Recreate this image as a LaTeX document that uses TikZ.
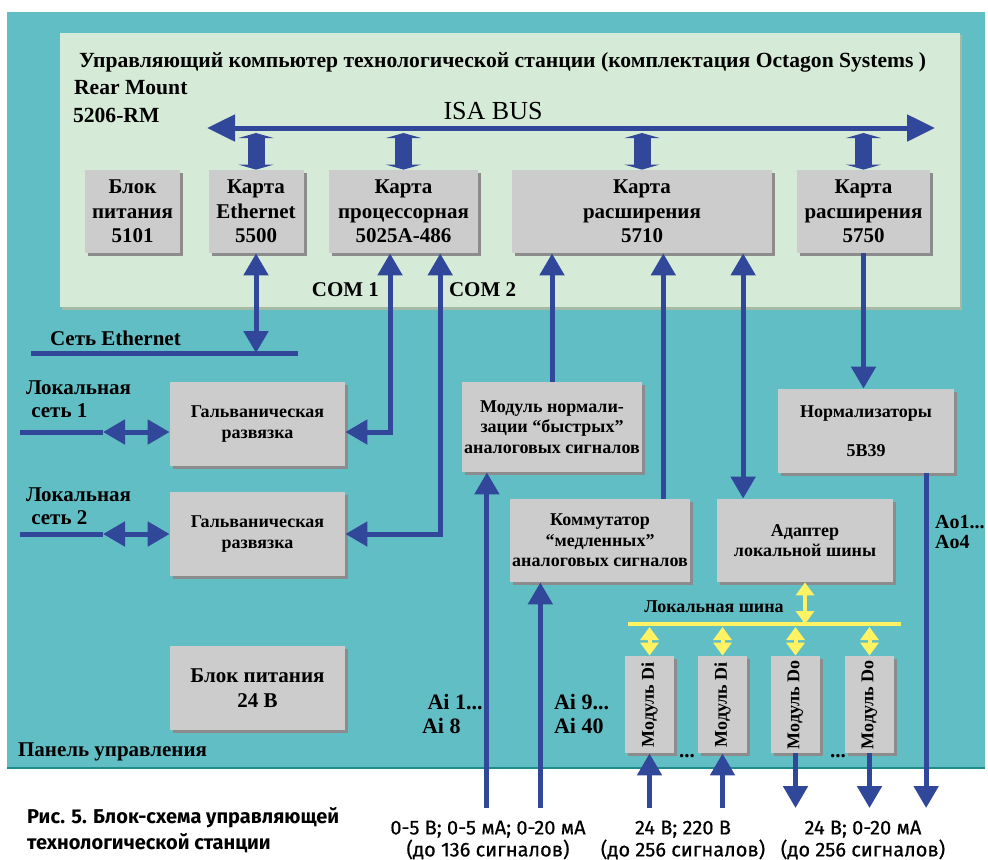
\documentclass[tikz,border=0pt]{standalone}
\usepackage{fontspec}
\setmainfont{Liberation Serif}
\newfontfamily\capfont{Fira Sans}
\newfontfamily\sigfam[FakeBold=0.5]{Fira Sans}
\usetikzlibrary{arrows.meta,calc,shadows}

\definecolor{tealbg}{HTML}{62BEC5}
\definecolor{tealdark}{HTML}{1E8C8A}
\definecolor{panelgreen}{HTML}{D6EBD7}
\definecolor{panelshadow}{HTML}{A3BBA4}
\definecolor{boxgray}{HTML}{CCCCCC}
\definecolor{shadowgray}{HTML}{8C8C8C}
\definecolor{bluec}{HTML}{30479A}
\definecolor{ylwc}{HTML}{FFF263}

\newcommand\titlefont{\fontsize{10.8}{12}\selectfont\bfseries}
\newcommand\cardfont{\fontsize{10.5}{12.25}\selectfont\bfseries}
\newcommand\boxsmall{\fontsize{9}{10.2}\selectfont\bfseries}
\newcommand\busfont{\fontsize{13}{15}\selectfont\mdseries}
\newcommand\lblfont{\fontsize{10.5}{11.5}\selectfont\bfseries}
\newcommand\sigfont{\sigfam\fontsize{10}{11}\selectfont}
\newcommand\capbold{\capfont\fontsize{10}{13}\selectfont\bfseries}

\tikzset{
  card/.style={fill=boxgray, inner sep=1pt, align=center, font=\cardfont,
    general shadow={fill=shadowgray, shadow xshift=1.5pt, shadow yshift=-1.5pt}},
  smallcard/.style={card, font=\boxsmall},
  modbox/.style={card, font=\boxsmall, minimum width=24.5pt, minimum height=48.5pt},
  ln/.style={draw=bluec, line width=2.5pt},
  bus/.style={ln, {Triangle[width=13pt,length=14pt]}-{Triangle[width=13pt,length=14pt]}},
  slot/.style={draw=bluec, line width=8.5pt,
    {Triangle[width=17.5pt,length=2.5pt]}-{Triangle[width=17.5pt,length=2.5pt]}},
  lbus/.style={draw=ylwc, line width=2pt},
  ylw/.style={draw=ylwc, line width=2pt,
    {Triangle[width=9pt,length=6.5pt]}-{Triangle[width=9pt,length=6.5pt]}},
  lbl/.style={font=\lblfont, align=left}
}

\begin{document}
\begin{tikzpicture}[x=0.5pt, y=-0.5pt, font=\bfseries,
  >={Triangle[width=12pt,length=11pt]}]
\useasboundingbox (0,0) rectangle (988,859);

% background panels
\fill[tealbg] (7,12) rectangle (985,768);
\draw[tealdark, line width=1pt] (7,767.5) -- (985,767.5);
\fill[panelshadow] (62,35) rectangle (962,310);
\fill[panelgreen] (60,33) rectangle (960,307);

% computer
\node[anchor=west, font=\titlefont] (title) at (72,62)
  {Управляющий компьютер технологической станции (комплектация Octagon Systems )};
\node[anchor=west, font=\titlefont] (rear) at (67,88) {Rear Mount};
\node[anchor=west, font=\titlefont] (rm) at (66,115) {5206-RM};
\node[font=\busfont] (isa) at (493,111) {ISA BUS};
\coordinate (busL) at (207,128);
\coordinate (busR) at (935,128);
\draw[bus] (busL) -- (busR);

\node[card, minimum width=47.5pt, minimum height=41.5pt] (psu) at (132.5,211.5) {Блок\\питания\\5101};
\node[card, minimum width=47.5pt, minimum height=41.5pt] (eth) at (256,211.5) {Карта\\Ethernet\\5500};
\node[card, minimum width=74.5pt, minimum height=41.5pt] (proc) at (403.5,211.5) {Карта\\процессорная\\5025A-486};
\node[card, minimum width=130pt, minimum height=41.5pt] (c5710) at (642,211.5) {Карта\\расширения\\5710};
\node[card, minimum width=66.5pt, minimum height=41.5pt] (c5750) at (863.5,211.5) {Карта\\расширения\\5750};

\coordinate (slotY) at (0,133);
\foreach \c in {eth,proc,c5710,c5750}
  \draw[slot] (\c.north |- slotY) -- (\c.north);

% panel boxes
\node[smallcard, minimum width=87.5pt, minimum height=42pt] (gal1) at (257.5,424) {Гальваническая\\развязка};
\node[smallcard, minimum width=87.5pt, minimum height=42pt] (gal2) at (257.5,534) {Гальваническая\\развязка};
\node[card, minimum width=87.5pt, minimum height=42pt] (psu24) at (257.5,688) {Блок питания\\24 В};
\node[smallcard, minimum width=90pt, minimum height=45pt] (norm) at (552,427)
  {Модуль нормали-\\зации “быстрых”\\аналоговых сигналов};
\node[smallcard, minimum width=90pt, minimum height=41.5pt] (komm) at (600,540.5)
  {Коммутатор\\“медленных”\\аналоговых сигналов};
\node[smallcard, minimum width=88pt, minimum height=41.5pt] (adapt) at (805,540.5)
  {Адаптер\\локальной шины};
\node[smallcard, minimum width=88pt, minimum height=42pt] (normz) at (866,431)
  {Нормализаторы\\[9pt]5B39};

\node[modbox] (di1) at (649.5,704.5) {\rotatebox{90}{Модуль Di}};
\node[modbox] (di2) at (722.5,704.5) {\rotatebox{90}{Модуль Di}};
\node[modbox] (do1) at (795.5,704.5) {\rotatebox{90}{Модуль Do}};
\node[modbox] (do2) at (869.5,704.5) {\rotatebox{90}{Модуль Do}};
\node[font=\lblfont] (dots1) at (687,756) {...};
\node[font=\lblfont] (dots2) at (838,756) {...};

% Ethernet
\node[anchor=west, font=\lblfont] (enet) at (43,338) {Сеть Ethernet};
\coordinate (enetL) at (31,353);
\coordinate (enetR) at (298,353);
\draw[ln] (enetL) -- (enetR);
\draw[ln,<->] (eth.south) -- (eth.south |- enetL);

% COM ports
\coordinate (com1) at ($(proc.south west)!0.41!(proc.south east)$);
\coordinate (com2) at ($(proc.south west)!0.745!(proc.south east)$);
\draw[ln,<->] (com1) |- ([yshift=-4pt]gal1.east);
\draw[ln,<->] (com2) |- (gal2.east);
\node[anchor=east, font=\lblfont] (com1l) at (386,290) {COM 1};
\node[anchor=west, font=\lblfont] (com2l) at (442,290) {COM 2};

% local networks
\node[lbl, anchor=west] (lan1l) at (19,399) {Локальная\\\ сеть 1};
\node[lbl, anchor=west] (lan2l) at (19,506) {Локальная\\\ сеть 2};
\coordinate (lan1) at (20,432);
\coordinate (lan1m) at (103,432);
\coordinate (lan2) at (20,534);
\coordinate (lan2m) at (103,534);
\draw[ln] (lan1) -- (lan1m);
\draw[ln,<->] (lan1m) -- ([yshift=-4pt]gal1.west);
\draw[ln] (lan2) -- (lan2m);
\draw[ln,<->] (lan2m) -- (gal2.west);

% expansion cards
\draw[ln,->] (norm.north) -- (norm.north |- c5710.south);
\coordinate (kommTop) at ($(komm.north west)!0.85!(komm.north east)$);
\draw[ln,->] (kommTop) -- (kommTop |- c5710.south);
\coordinate (adTop) at ($(adapt.north west)!0.15!(adapt.north east)$);
\draw[ln,<->] (adTop |- c5710.south) -- (adTop);
\draw[ln,->] (c5750.south) -- (c5750.south |- normz.north);

% outputs and inputs
\coordinate (sigY) at (0,808);
\coordinate (aoTop) at ($(normz.south west)!0.84!(normz.south east)$);
\draw[ln,->] (aoTop) -- (aoTop |- sigY);
\node[lbl, anchor=west, font=\fontsize{10}{10}\selectfont\bfseries] (aol) at (928,532) {Ao1...\\Ao4};
\coordinate (ai1) at ($(norm.south west)!0.14!(norm.south east)$);
\coordinate (ai9) at ($(komm.south west)!0.17!(komm.south east)$);
\draw[ln,->] (ai1 |- sigY) -- (ai1);
\draw[ln,->] (ai9 |- sigY) -- (ai9);
\node[lbl, anchor=west, font=\fontsize{11}{12}\selectfont\bfseries] (ai1l) at (415,714) {\ Ai 1...\\Ai 8};
\node[lbl, anchor=west, font=\fontsize{11}{12}\selectfont\bfseries] (ai9l) at (547,714) {Ai 9...\\Ai 40};
\foreach \m in {di1,di2}
  \draw[ln,->] (\m.south |- sigY) -- (\m.south);
\foreach \m in {do1,do2}
  \draw[ln,->] (\m.south) -- (\m.south |- sigY);

% local bus
\coordinate (lbL) at (628,624);
\coordinate (lbR) at (901,624);
\coordinate (lbY) at (0,627);
\draw[lbus] (lbL) -- (lbR);
\node[font=\boxsmall] (lbl) at (714,607) {Локальная шина};
\draw[ylw] (adapt.south) -- (adapt.south |- lbL);
\foreach \m in {di1,di2,do1,do2}
  \draw[ylw] (\m.north |- lbY) -- (\m.north);

\node[anchor=west, font=\fontsize{10.5}{12}\selectfont\bfseries] (panel) at (11,752) {Панель управления};

% signals
\node[font=\sigfont, align=center] (sig1) at (488,840) {0-5 В; 0-5 мА; 0-20 мА\\(до 136 сигналов)};
\node[font=\sigfont, align=center] (sig2) at (683,840) {24 В; 220 В\\(до 256 сигналов)};
\node[font=\sigfont, align=center] (sig3) at (863,840) {24 В; 0-20 мА\\(до 256 сигналов)};

% caption
\node[anchor=west, align=left, font=\capbold] (cap) at (20,830)
  {Рис. 5. Блок-схема управляющей\\технологической станции};
\end{tikzpicture}
\end{document}
